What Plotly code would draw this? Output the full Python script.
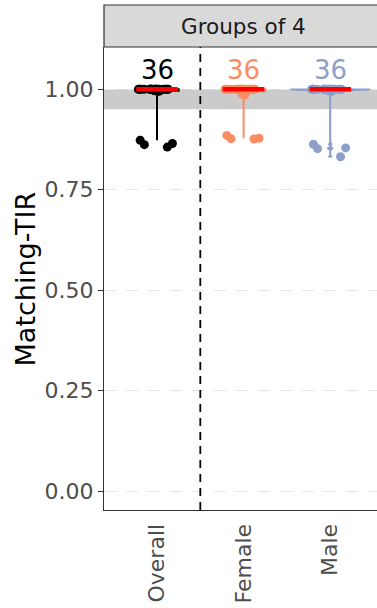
import plotly.graph_objects as go

# Groups and their colours
groups = ["Overall", "Female", "Male"]
group_colors = ["#000000", "#FC8D62", "#8DA0CB"]

# Matching-TIR values per group (36 each)
overall_tir = [
    1.000, 1.000, 0.999, 1.000, 0.998, 1.000, 1.000, 0.997,
    1.000, 0.999, 1.000, 1.000, 0.996, 1.000, 0.998, 1.000,
    1.000, 0.999, 1.000, 0.995, 1.000, 1.000, 0.998, 1.000,
    0.997, 1.000, 0.999, 1.000, 1.000, 0.996, 1.000, 0.999,
    0.873, 0.865, 0.862, 0.856,
]
female_tir = [
    1.000, 0.998, 1.000, 0.993, 1.000, 1.000, 0.997, 1.000,
    0.999, 1.000, 0.986, 1.000, 0.998, 1.000, 1.000, 0.995,
    1.000, 0.999, 1.000, 0.990, 1.000, 0.997, 1.000, 1.000,
    0.998, 1.000, 0.999, 0.988, 1.000, 1.000, 0.996, 1.000,
    0.885, 0.876, 0.878, 0.877,
]
male_tir = [
    1.000, 1.000, 0.999, 1.000, 1.000, 0.998, 1.000, 1.000,
    0.997, 1.000, 0.999, 1.000, 1.000, 0.998, 1.000, 0.996,
    1.000, 1.000, 0.999, 1.000, 0.997, 1.000, 1.000, 0.998,
    1.000, 0.999, 1.000, 1.000, 0.995, 1.000, 0.999, 1.000,
    0.854, 0.852, 0.863, 0.832,
]
group_values = [overall_tir, female_tir, male_tir]

# Box summary per group
box_q1 = [0.996, 0.995, 0.997]
box_median = [1.000, 1.000, 1.000]
box_q3 = [1.000, 1.000, 1.000]
whisker_low = [0.873, 0.878, 0.832]
whisker_high = [1.000, 1.000, 1.000]

# Reference band and axis ticks
band_low, band_high = 0.95, 1.00
y_ticks = [0.00, 0.25, 0.50, 0.75, 1.00]
y_tick_labels = ["0.00", "0.25", "0.50", "0.75", "1.00"]
panel_title = "Groups of 4"
y_title = "Matching-TIR"

fig = go.Figure()

# Violin outline for the Male group
fig.add_trace(go.Violin(
    x=["Male"] * len(male_tir), y=male_tir,
    width=0.92, spanmode="hard", bandwidth=0.002, scalemode="width",
    points=False, box_visible=False, meanline_visible=False,
    line=dict(color=group_colors[2], width=1.5), fillcolor=group_colors[2],
    hoverinfo="skip", showlegend=False,
))

# Box + whiskers in the group colour
for i, g in enumerate(groups):
    fig.add_trace(go.Box(
        x=[g], q1=[box_q1[i]], median=[box_median[i]], q3=[box_q3[i]],
        lowerfence=[whisker_low[i]], upperfence=[whisker_high[i]],
        width=0.5, whiskerwidth=0, line=dict(color=group_colors[i], width=2),
        fillcolor=group_colors[i], boxpoints=False,
        hoverinfo="skip", showlegend=False,
    ))

# Jittered individual points: values inside the band and the low tail
# are jittered as separate layers so each gets the full spread
for i, g in enumerate(groups):
    vals = group_values[i]
    for part in ([v for v in vals if v >= band_low], [v for v in vals if v < band_low]):
        if not part:
            continue
        fig.add_trace(go.Box(
            x=[g] * len(part), y=part, boxpoints="all", jitter=0.85, pointpos=0,
            width=0.54, marker=dict(color=group_colors[i], size=9, opacity=1),
            line=dict(width=0, color="rgba(0,0,0,0)"), fillcolor="rgba(0,0,0,0)",
            whiskerwidth=0, hoverinfo="skip", showlegend=False,
        ))

# Red median bars on top
for i, g in enumerate(groups):
    m = box_median[i]
    fig.add_trace(go.Box(
        x=[g], q1=[m], median=[m], q3=[m], lowerfence=[m], upperfence=[m],
        width=0.48, whiskerwidth=0, line=dict(color="#FF0000", width=4.5),
        fillcolor="#FF0000", boxpoints=False, hoverinfo="skip", showlegend=False,
    ))

# Sample size labels
for i, g in enumerate(groups):
    fig.add_annotation(
        x=g, y=1.047, xref="x", yref="y", text=str(len(group_values[i])),
        showarrow=False, yanchor="middle",
        font=dict(size=26, color=group_colors[i], family="DejaVu Sans"),
    )

# Shaded band
fig.add_shape(type="rect", xref="paper", yref="y", x0=0, x1=1,
              y0=band_low, y1=band_high, fillcolor="#CBCBCB",
              line=dict(width=0), layer="below")

# Separator between overall and subgroups
fig.add_shape(type="line", xref="x", yref="paper", x0=0.5, x1=0.5, y0=0, y1=1,
              line=dict(color="black", width=1.8, dash="8px,6px"))

# Facet strip
fig.add_shape(type="rect", xref="paper", yref="paper", x0=0, x1=1.2,
              y0=1, y1=1.0907, fillcolor="#D9D9D9",
              line=dict(color="#333333", width=1.2))
fig.add_annotation(x=1, xref="x", y=1.045, yref="paper", text=panel_title,
                   showarrow=False, yanchor="middle",
                   font=dict(size=21.5, color="#1A1A1A", family="DejaVu Sans"))

# Y axis title
fig.add_annotation(x=-0.286, xref="paper", y=0.5, yref="paper", text=y_title,
                   textangle=-90, showarrow=False, xanchor="center",
                   yanchor="middle",
                   font=dict(size=27, color="black", family="DejaVu Sans"))

fig.update_layout(
    width=377, height=608,
    margin=dict(l=104, r=0, t=47, b=98),
    plot_bgcolor="white", paper_bgcolor="white",
    showlegend=False, boxmode="overlay", violinmode="overlay",
    font=dict(family="DejaVu Sans"),
)
fig.update_xaxes(
    type="category", categoryorder="array", categoryarray=groups,
    range=[-0.612, 2.54], showline=True, linecolor="#333333", linewidth=1.2,
    ticks="", tickangle=-90, showgrid=False, zeroline=False,
    ticklabelstandoff=4,
    tickfont=dict(size=22, color="#4D4D4D", family="DejaVu Sans"),
)
fig.update_yaxes(
    range=[-0.047, 1.105], tickvals=y_ticks, ticktext=y_tick_labels,
    showline=True, linecolor="#333333", linewidth=1.2,
    ticks="outside", ticklen=5, tickcolor="#333333", tickwidth=1.2,
    showgrid=True, gridcolor="#E6E6E6", gridwidth=1, griddash="12px,10px",
    zeroline=False,
    tickfont=dict(size=22, color="#4D4D4D", family="DejaVu Sans"),
)

fig.write_html("out.html")
